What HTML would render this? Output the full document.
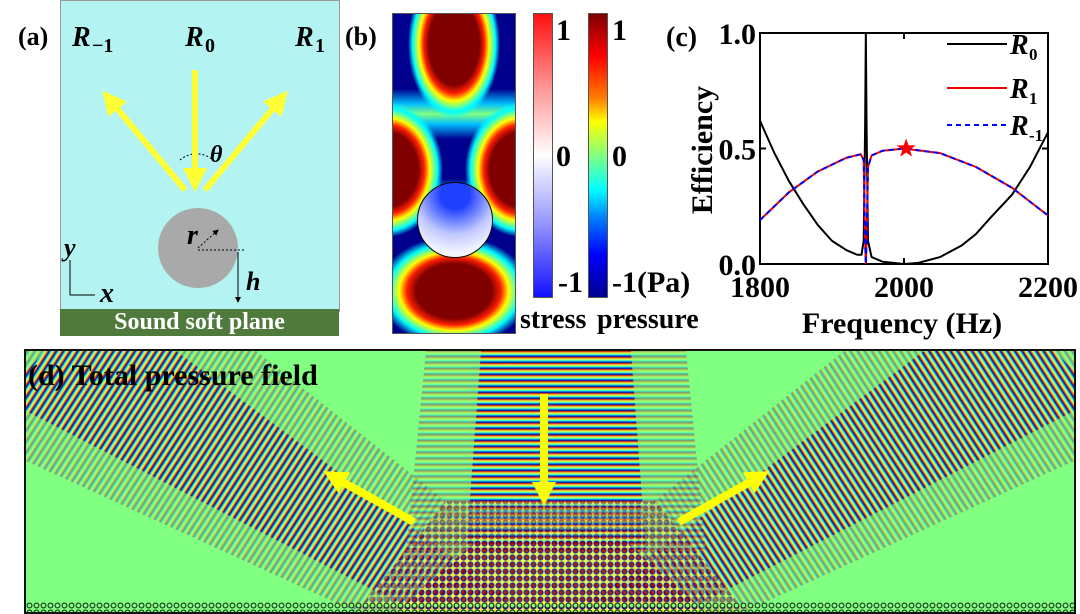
<!DOCTYPE html>
<html><head><meta charset="utf-8"><style>
body{margin:0;width:1080px;height:613px;background:#fff;position:relative;overflow:hidden;font-family:"Liberation Serif",serif;font-weight:bold}
.abs{position:absolute}
.lbl{position:absolute;font-size:26px;font-weight:bold;color:#000}
.blob{position:absolute;border-radius:50%}
.band{position:absolute;left:0;top:0;width:1048px;height:261px}
</style></head><body>
<!-- Panel a -->
<div class="lbl" style="left:18px;top:22px">(a)</div>
<div class="abs" style="left:60px;top:0;width:278px;height:310px;background:#b3f4f2;border:1px solid #999"></div>
<div class="abs" style="left:60px;top:309px;width:279px;height:27px;background:#4f7a3c;color:#fff;font-size:24px;text-align:center;line-height:27px">Sound soft plane</div>
<svg class="abs" style="left:0;top:0" width="340" height="340">
<defs><marker id="ah" markerWidth="4" markerHeight="4" refX="2" refY="2" orient="auto"><path d="M0,0L4,2L0,4Z" fill="#ffff33"/></marker>
<marker id="bk" markerWidth="6" markerHeight="6" refX="5" refY="3" orient="auto"><path d="M0,0L6,3L0,6Z" fill="#000"/></marker></defs>
<path d="M180,160 A25,25 0 0 1 215,162" fill="none" stroke="#000" stroke-dasharray="2,2"/>
<line x1="195" y1="70" x2="195" y2="180" stroke="#ffff33" stroke-width="6" marker-end="url(#ah)"/>
<line x1="185" y1="190" x2="110" y2="100" stroke="#ffff33" stroke-width="6" marker-end="url(#ah)"/>
<line x1="205" y1="190" x2="280" y2="100" stroke="#ffff33" stroke-width="6" marker-end="url(#ah)"/>
<circle cx="198" cy="248" r="40" fill="#a9a9a9"/>
<line x1="198" y1="248" x2="218" y2="230" stroke="#000" stroke-dasharray="2,2" marker-end="url(#bk)"/>
<line x1="198" y1="250" x2="245" y2="250" stroke="#000" stroke-dasharray="2,2"/>
<line x1="238" y1="252" x2="238" y2="302" stroke="#000" marker-end="url(#bk)"/>
<line x1="70" y1="260" x2="70" y2="295" stroke="#000"/>
<line x1="70" y1="295" x2="95" y2="295" stroke="#000"/>
<text x="210" y="162" font-size="24" font-style="italic">θ</text>
<text x="187" y="244" font-size="28" font-style="italic">r</text>
<text x="246" y="290" font-size="26" font-style="italic">h</text>
<text x="64" y="256" font-size="26" font-style="italic">y</text>
<text x="100" y="302" font-size="28" font-style="italic">x</text>
<text x="72" y="46" font-size="28" font-style="italic">R</text><text x="92" y="52" font-size="20">−1</text>
<text x="185" y="46" font-size="28" font-style="italic">R</text><text x="205" y="52" font-size="20">0</text>
<text x="295" y="46" font-size="28" font-style="italic">R</text><text x="315" y="52" font-size="20">1</text>
</svg>
<!-- Panel b -->
<div class="lbl" style="left:345px;top:22px">(b)</div>
<div class="abs" style="left:392px;top:13px;width:122px;height:319px;background:#00008f;border:1px solid #555;overflow:hidden">
 <div class="abs" style="left:-20px;top:165px;width:170px;height:45px;background:linear-gradient(#00008f,#00c0ff 30%,#60ff90 50%,#00c0ff 70%,#00008f)"></div>
 <div class="abs" style="left:-20px;top:75px;width:170px;height:50px;background:linear-gradient(#00008f,#00c0ff 30%,#80ff80 50%,#00c0ff 70%,#00008f)"></div>
 <div class="blob" style="left:15px;top:-45px;width:92px;height:150px;background:radial-gradient(ellipse closest-side,#800000 55%,#ff2000 66%,#ffff00 76%,#00ffff 90%,transparent 100%)"></div>
 <div class="blob" style="left:-60px;top:88px;width:110px;height:135px;background:radial-gradient(ellipse closest-side,#800000 55%,#ff2000 66%,#ffff00 76%,#00ffff 90%,transparent 100%)"></div>
 <div class="blob" style="left:72px;top:88px;width:110px;height:135px;background:radial-gradient(ellipse closest-side,#800000 55%,#ff2000 66%,#ffff00 76%,#00ffff 90%,transparent 100%)"></div>
 <div class="blob" style="left:-15px;top:222px;width:152px;height:110px;background:radial-gradient(ellipse closest-side,#800000 50%,#ff2000 62%,#ffff00 72%,#00ffff 86%,transparent 100%)"></div>
 <div class="blob" style="left:24px;top:168px;width:74px;height:74px;border:1px solid #000;background:radial-gradient(circle at 50% 15%,#2040ff 20%,#c0c8ff 55%,#f4f4ff 80%)"></div>
</div>
<div class="abs" style="left:533px;top:13px;width:18px;height:283px;background:linear-gradient(#ff1010,#ff9090 25%,#fff 50%,#9090ff 75%,#1010ff);border:1px solid #555"></div>
<div class="abs" style="left:588px;top:13px;width:18px;height:283px;background:linear-gradient(#800000,#ff0000 15%,#ff8000 30%,#ffff00 38%,#80ff80 50%,#00ffff 62%,#0080ff 72%,#0000ff 85%,#00008f);border:1px solid #555"></div>
<div class="lbl" style="left:556px;top:14px;font-size:30px">1</div>
<div class="lbl" style="left:556px;top:140px;font-size:30px">0</div>
<div class="lbl" style="left:558px;top:266px;font-size:30px">-1</div>
<div class="lbl" style="left:612px;top:14px;font-size:30px">1</div>
<div class="lbl" style="left:612px;top:140px;font-size:30px">0</div>
<div class="lbl" style="left:612px;top:266px;font-size:30px">-1(Pa)</div>
<div class="lbl" style="left:520px;top:304px;font-size:28px">stress</div>
<div class="lbl" style="left:597px;top:304px;font-size:28px">pressure</div>
<!-- Panel c -->
<div class="lbl" style="left:666px;top:22px;font-size:28px">(c)</div>
<svg id="chart" class="abs" style="left:0;top:0" width="1080" height="345"></svg>
<!-- Panel d -->
<div class="abs" style="left:24px;top:349px;width:1048px;height:261px;background:#80ff80;border:2px solid #111;overflow:hidden">
 <div class="band" style="clip-path:polygon(0 0,230px 0,560px 261px,330px 261px,0 110px);opacity:.35;background:repeating-linear-gradient(303deg,#c00000 0,#ffff40 2px,#80ff80 3px,#00e0ff 4px,#0000d0 5px,#c00000 6px)"></div>
 <div class="band" style="clip-path:polygon(20px 0,150px 0,500px 261px,390px 261px,0 60px,0 20px);opacity:.8;background:repeating-linear-gradient(303deg,#b00000 0,#ff4000 1px,#ffff40 2px,#80ff80 3px,#00e0ff 4px,#0000d0 5px,#000090 6px)"></div>
 <div class="band" style="clip-path:polygon(100% 0,818px 0,488px 261px,718px 261px,100% 110px);opacity:.35;background:repeating-linear-gradient(57deg,#c00000 0,#ffff40 2px,#80ff80 3px,#00e0ff 4px,#0000d0 5px,#c00000 6px)"></div>
 <div class="band" style="clip-path:polygon(1028px 0,898px 0,548px 261px,658px 261px,100% 60px,100% 20px);opacity:.8;background:repeating-linear-gradient(57deg,#b00000 0,#ff4000 1px,#ffff40 2px,#80ff80 3px,#00e0ff 4px,#0000d0 5px,#000090 6px)"></div>
 <div class="band" style="clip-path:polygon(400px 0,660px 0,680px 200px,380px 200px);opacity:.35;background:repeating-linear-gradient(180deg,#c00000 0,#ffff40 2px,#80ff80 3px,#00e0ff 4px,#0000d0 5px,#c00000 6px)"></div>
 <div class="band" style="clip-path:polygon(455px 0,605px 0,620px 200px,440px 200px);opacity:.8;background:repeating-linear-gradient(180deg,#b00000 0,#ff4000 1px,#ffff40 2px,#80ff80 3px,#00e0ff 4px,#0000d0 5px,#000090 6px)"></div>
 <div class="band" style="clip-path:polygon(420px 150px,630px 150px,720px 261px,330px 261px);opacity:.45;background:radial-gradient(circle,#a00000 1.5px,#0000c0 2.5px,#ffff40 3.5px) 0 0/7px 7px"></div>
 <div class="band" style="clip-path:polygon(450px 190px,600px 190px,680px 261px,370px 261px);opacity:.7;background:radial-gradient(circle,#a00000 1.5px,#0000c0 2.5px,#ffff40 3.5px) 0 0/7px 7px"></div>
 <div class="abs" style="left:0;top:251px;width:1048px;height:10px;background:radial-gradient(circle,#80ff80 1.5px,#000 2.5px,transparent 3.2px) 0 0/7px 7px"></div>
</div>
<div class="lbl" style="left:28px;top:359px;font-size:30px">(d) Total pressure field</div>
<svg class="abs" style="left:24px;top:349px" width="1050" height="263">
<defs><marker id="ay" markerWidth="3" markerHeight="3" refX="1.5" refY="1.5" orient="auto"><path d="M0,0L3,1.5L0,3Z" fill="#ffff00"/></marker></defs>
<line x1="520" y1="45" x2="520" y2="145" stroke="#ffff00" stroke-width="8" marker-end="url(#ay)"/>
<line x1="390" y1="173" x2="310" y2="128" stroke="#ffff00" stroke-width="8" marker-end="url(#ay)"/>
<line x1="655" y1="173" x2="735" y2="128" stroke="#ffff00" stroke-width="8" marker-end="url(#ay)"/>
</svg>
<script>
const freqR0=[1800,1820,1840,1860,1880,1900,1920,1935,1941,1944,1946,1947,1948,1950,1955,1970,2000,2020,2050,2080,2100,2120,2150,2175,2200];
const valR0=[0.62,0.48,0.36,0.26,0.17,0.10,0.06,0.04,0.04,0.10,0.60,1.0,0.60,0.10,0.03,0.01,0.0,0.005,0.03,0.08,0.13,0.2,0.3,0.42,0.57];
const freqR1=[1800,1840,1880,1920,1940,1944,1946,1947,1948,1950,1955,1970,2000,2050,2100,2150,2200];
const valR1=[0.19,0.31,0.40,0.46,0.475,0.45,0.1,0.0,0.1,0.42,0.47,0.49,0.5,0.48,0.42,0.33,0.21];
const xTicks=[1800,2000,2200];
const yTicks=["0.0","0.5","1.0"];
const starF=2003, starV=0.5;
const svg=document.getElementById('chart'),NS='http://www.w3.org/2000/svg';
const X0=760,X1=1048,Y0=264,Y1=33;
const xs=f=>X0+(f-1800)/400*(X1-X0), ys=v=>Y0-v*(Y0-Y1);
function el(t,a){const e=document.createElementNS(NS,t);for(const k in a)e.setAttribute(k,a[k]);svg.appendChild(e);return e;}
const box=el('rect',{x:X0,y:Y1,width:X1-X0,height:Y0-Y1,fill:'none',stroke:'#000','stroke-width':2});


xTicks.forEach(t=>{const x=xs(t);el('line',{x1:x,y1:Y0,x2:x,y2:Y0-6,stroke:'#000','stroke-width':2});el('line',{x1:x,y1:Y1,x2:x,y2:Y1+6,stroke:'#000','stroke-width':2});
 const tx=el('text',{x:x,y:Y0+33,'font-size':30,'text-anchor':'middle','font-weight':'bold'});tx.textContent=t;
 
 });
yTicks.forEach(t=>{const y=ys(+t);el('line',{x1:X0,y1:y,x2:X0+6,y2:y,stroke:'#000','stroke-width':2});el('line',{x1:X1,y1:y,x2:X1-6,y2:y,stroke:'#000','stroke-width':2});
 const tx=el('text',{x:X0-4,y:y+11,'font-size':30,'text-anchor':'end','font-weight':'bold'});tx.textContent=t;
 
 });
const xt=el('text',{x:902,y:333,'font-size':30,'text-anchor':'middle','font-weight':'bold'});xt.textContent='Frequency (Hz)';


const yt=el('text',{x:0,y:0,'font-size':30,'text-anchor':'middle','font-weight':'bold',transform:'translate(712,150) rotate(-90)'});yt.textContent='Efficiency';


const pts=(F,V)=>F.map((f,i)=>xs(f)+','+ys(V[i])).join(' ');
const l0=el('polyline',{points:pts(freqR0,valR0),fill:'none',stroke:'#000','stroke-width':2});


const l1=el('polyline',{points:pts(freqR1,valR1),fill:'none',stroke:'#e00','stroke-width':2});


const l2=el('polyline',{points:pts(freqR1,valR1),fill:'none',stroke:'#00f','stroke-width':2,'stroke-dasharray':'5,4'});


const sx=xs(starF),sy=ys(starV);let sp='';for(let i=0;i<10;i++){const r=i%2?4:10,a=-Math.PI/2+i*Math.PI/5;sp+=(sx+r*Math.cos(a))+','+(sy+r*Math.sin(a))+' ';}
const st=el('polygon',{points:sp,fill:'#f00'});


[['#000','','0',44],['#e00','','1',88],['#00f','5,4','-1',125]].forEach(([c,d,s,y])=>{
 el('line',{x1:947,y1:y,x2:1007,y2:y,stroke:c,'stroke-width':2,'stroke-dasharray':d});
 const t=el('text',{x:1010,y:y+10,'font-size':28,'font-style':'italic','font-weight':'bold'});t.textContent='R';
 
 
 const u=el('text',{x:1029,y:y+16,'font-size':17,'font-weight':'bold'});u.textContent=s;});
</script>
</body></html>
